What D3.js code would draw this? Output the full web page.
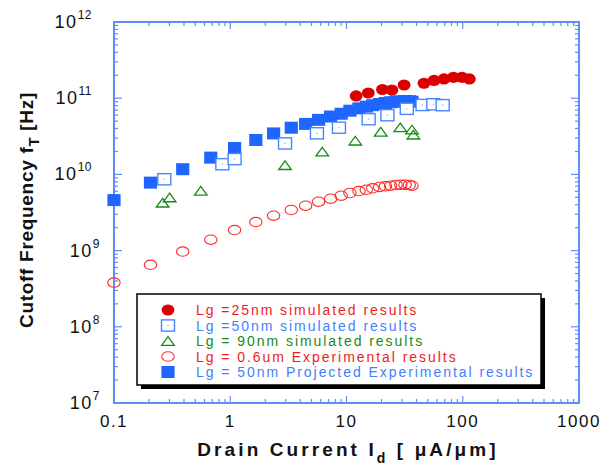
<!DOCTYPE html>
<html>
<head>
<meta charset="utf-8">
<script src="https://cdn.jsdelivr.net/npm/d3@7"></script>
<style>
  body { margin: 0; background: #fff; }
  svg { display: block; font-family: "Liberation Sans", Arial, sans-serif; }
</style>
</head>
<body>
<div id="chart"></div>
<script>
// Drain current [uA/um] and cutoff frequency [Hz] per series
const idExp      = [0.1, 0.206, 0.39, 0.68, 1.09, 1.66, 2.36, 3.35, 4.45, 5.75, 7.3, 9.0, 10.7, 12.8, 14.8, 16.8, 19.2, 21.6, 24.0, 26.7, 29.3, 31.9, 34.7, 36.6];
const ftExp06um  = [3.8e8, 6.5e8, 9.7e8, 1.39e9, 1.86e9, 2.37e9, 2.87e9, 3.41e9, 3.88e9, 4.38e9, 4.8e9, 5.26e9, 5.7e9, 6.05e9, 6.29e9, 6.57e9, 6.84e9, 6.98e9, 7.1e9, 7.26e9, 7.32e9, 7.32e9, 7.26e9, 7.1e9];
const ftProj50nm = [4.6e9, 7.8e9, 1.17e10, 1.66e10, 2.22e10, 2.83e10, 3.45e10, 4.1e10, 4.6e10, 5.2e10, 5.75e10, 6.25e10, 6.85e10, 7.35e10, 7.75e10, 8.1e10, 8.4e10, 8.65e10, 8.85e10, 9.0e10, 9.1e10, 9.2e10, 9.15e10, 9.0e10];

const id25nm = [12.1, 15.4, 20.4, 24.6, 31.3, 46.4, 56.6, 69.0, 83.2, 98.6, 114];
const ft25nm = [1.07e11, 1.17e11, 1.30e11, 1.28e11, 1.49e11, 1.57e11, 1.71e11, 1.79e11, 1.88e11, 1.88e11, 1.79e11];

const id50nm = [0.271, 0.855, 1.09, 2.96, 5.57, 8.61, 15.5, 22.5, 33.0, 45.1, 55.8, 67.2];
const ft50nm = [8.63e9, 1.36e10, 1.59e10, 2.55e10, 3.46e10, 4.10e10, 5.30e10, 5.98e10, 7.26e10, 8.15e10, 8.32e10, 8.10e10];

const id90nm = [0.262, 0.301, 0.558, 2.96, 6.19, 11.9, 19.7, 29.0, 36.6, 37.6];
const ft90nm = [4.25e9, 4.98e9, 6.1e9, 1.32e10, 1.99e10, 2.77e10, 3.63e10, 4.15e10, 3.88e10, 3.32e10];

const xTicks = [0.1, 1, 10, 100, 1000];
const xTickLabels = ["0.1", "1", "10", "100", "1000"];
const yExps = [7, 8, 9, 10, 11, 12];

const legendLabels = [
  "Lg =25nm simulated results",
  "Lg =50nm simulated results",
  "Lg = 90nm simulated results",
  "Lg = 0.6um Experimental results",
  "Lg = 50nm Projected Experimental results"
];

const W = 607, H = 466;
const pL = 114, pR = 579, pT = 22, pB = 403;
const axisC = "#5b8ff5";
const C = { red: "#dd0000", ored: "#ff2a2a", blue: "#1f66ff", oblue: "#4a86ff", green: "#168c16" };

const xS = d3.scaleLog().domain([0.1, 1000]).range([pL, pR]);
const yS = d3.scaleLog().domain([1e7, 1e12]).range([pB, pT]);

const svg = d3.select("#chart").append("svg").attr("width", W).attr("height", H);

// ticks (inward on all four sides)
const isMajor = v => Math.abs(Math.log10(v) - Math.round(Math.log10(v))) < 1e-9;
const tk = svg.append("g").attr("stroke", axisC).attr("stroke-width", 1.2);
xS.ticks().forEach(t => {
  const len = isMajor(t) ? 7 : 4;
  tk.append("line").attr("x1", xS(t)).attr("x2", xS(t)).attr("y1", pB).attr("y2", pB - len);
  tk.append("line").attr("x1", xS(t)).attr("x2", xS(t)).attr("y1", pT).attr("y2", pT + len);
});
yS.ticks().forEach(t => {
  const len = isMajor(t) ? 8 : 4;
  tk.append("line").attr("y1", yS(t)).attr("y2", yS(t)).attr("x1", pL).attr("x2", pL + len);
  tk.append("line").attr("y1", yS(t)).attr("y2", yS(t)).attr("x1", pR).attr("x2", pR - len);
});
svg.append("rect").attr("x", pL).attr("y", pT).attr("width", pR - pL).attr("height", pB - pT)
   .attr("fill", "none").attr("stroke", axisC).attr("stroke-width", 2);

// tick labels
xTicks.forEach((t, i) => {
  svg.append("text").attr("x", xS(t)).attr("y", 427).attr("text-anchor", "middle")
     .attr("font-size", "17px").attr("letter-spacing", "1.5px").attr("fill", "#111").text(xTickLabels[i]);
});
yExps.forEach(e => {
  const y = yS(Math.pow(10, e));
  const t = svg.append("text").attr("x", e >= 10 ? 92 : 100).attr("y", y + 6).attr("text-anchor", "end")
     .attr("font-size", "18px").attr("letter-spacing", "1.5px").attr("fill", "#111");
  t.append("tspan").text("10");
  t.append("tspan").attr("font-size", "12px").attr("dy", -9).attr("letter-spacing", "0.5px").text(e);
});

// axis titles
const xt = svg.append("text").attr("x", 348).attr("y", 456).attr("text-anchor", "middle")
   .attr("font-size", "19px").attr("font-weight", "bold").attr("letter-spacing", "3.1px").attr("fill", "#111");
xt.append("tspan").text("Drain Current I");
xt.append("tspan").attr("font-size", "14px").attr("dy", 7).text("d");
xt.append("tspan").attr("dy", -7).text(" [ μA/μm]");

const yt = svg.append("text").attr("transform", "translate(33,210) rotate(-90)").attr("text-anchor", "middle")
   .attr("font-size", "19px").attr("font-weight", "bold").attr("letter-spacing", "0.7px").attr("fill", "#111");
yt.append("tspan").text("Cutoff Frequency f");
yt.append("tspan").attr("font-size", "15px").attr("dy", 6).text("T");
yt.append("tspan").attr("dy", -6).text(" [Hz]");

// marker drawers
const mk = {
  fsq: (g, x, y) => g.append("rect").attr("x", x - 6.6).attr("y", y - 6).attr("width", 13.2).attr("height", 12).attr("fill", C.blue),
  osq: (g, x, y) => {
    g.append("rect").attr("x", x - 6.5).attr("y", y - 5.6).attr("width", 13).attr("height", 11.2)
     .attr("fill", "#fff").attr("stroke", C.oblue).attr("stroke-width", 1.4);
    g.append("rect").attr("x", x - 0.5).attr("y", y - 0.5).attr("width", 1).attr("height", 1).attr("fill", C.oblue);
  },
  tri: (g, x, y) => g.append("path").attr("d", `M${x - 6.3},${y + 4.3}L${x + 6.3},${y + 4.3}L${x},${y - 4.3}Z`)
     .attr("fill", "none").attr("stroke", C.green).attr("stroke-width", 1.3),
  ocir: (g, x, y) => g.append("ellipse").attr("cx", x).attr("cy", y).attr("rx", 6.2).attr("ry", 4.7)
     .attr("fill", "none").attr("stroke", C.ored).attr("stroke-width", 1.1),
  fcir: (g, x, y) => g.append("ellipse").attr("cx", x).attr("cy", y).attr("rx", 6.4).attr("ry", 5.6).attr("fill", C.red)
};

const plot = svg.append("g");
idExp.forEach((d, i) => mk.fsq(plot, xS(d), yS(ftProj50nm[i])));
id50nm.forEach((d, i) => mk.osq(plot, xS(d), yS(ft50nm[i])));
id90nm.forEach((d, i) => mk.tri(plot, xS(d), yS(ft90nm[i])));
idExp.forEach((d, i) => mk.ocir(plot, xS(d), yS(ftExp06um[i])));
id25nm.forEach((d, i) => mk.fcir(plot, xS(d), yS(ft25nm[i])));

// legend
const lg = svg.append("g");
const lx = 137, ly = 294, lw = 404, lh = 91;
lg.append("rect").attr("x", lx + 4).attr("y", ly + 4).attr("width", lw).attr("height", lh).attr("fill", "#000");
lg.append("rect").attr("x", lx).attr("y", ly).attr("width", lw).attr("height", lh)
  .attr("fill", "#fff").attr("stroke", "#000").attr("stroke-width", 1.5);
const lgKeys = ["fcir", "osq", "tri", "ocir", "fsq"];
const lgCols = ["#ee1c1c", "#3f7fff", "#1a8a1a", "#ee1c1c", "#3f7fff"];
legendLabels.forEach((s, i) => {
  const y = 310 + i * 15.5;
  mk[lgKeys[i]](lg, 168, y);
  lg.append("text").attr("x", 196).attr("y", y + 5).attr("font-size", "14px").attr("letter-spacing", "1.95px")
    .attr("fill", lgCols[i]).text(s);
});
</script>
</body>
</html>
